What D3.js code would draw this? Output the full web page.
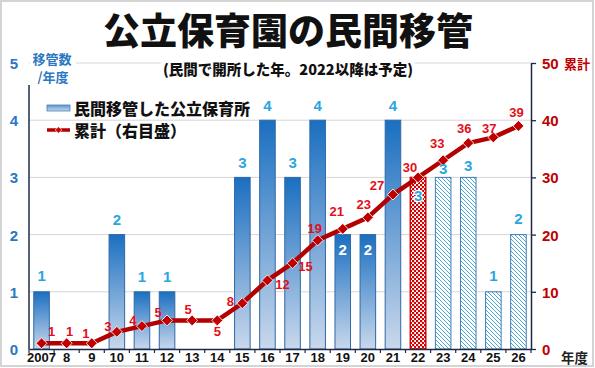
<!DOCTYPE html>
<html><head><meta charset="utf-8">
<script src="https://cdn.jsdelivr.net/npm/d3@7"></script>
<style>body{margin:0;background:#fff}svg{display:block}</style>
</head><body><svg id="c" width="595" height="368"></svg>
<script>
// ---- data ----
const years = [2007,2008,2009,2010,2011,2012,2013,2014,2015,2016,2017,2018,2019,2020,2021,2022,2023,2024,2025,2026];
const tickLabels = ["2007","8","9","10","11","12","13","14","15","16","17","18","19","20","21","22","23","24","25","26"];
const transfers = [1,0,0,2,1,1,0,0,3,4,3,4,2,2,4,3,3,3,1,2];
const cumulative = [1,1,1,3,4,5,5,5,8,12,15,19,21,23,27,30,33,36,37,39];
const barStatus = ["done","done","done","done","done","done","done","done","done","done","done","done","done","done","done","open","plan","plan","plan","plan"];
const leftTicks = [0,1,2,3,4,5];
const rightTicks = [0,10,20,30,40,50];
const title = "公立保育園の民間移管";
const subtitle = "(民間で開所した年。2022以降は予定)";
const legendBar = "民間移管した公立保育所";
const legendLine = "累計（右目盛）";

// ---- label layout (offsets only) ----
const barLabelDy = [-16,0,0,-15,-15,-15,0,0,-15,-15,-15,-15,15,15,-15,18,-9,-12,-16,-16];
const cumLabelOff = [[10,-12],[3,-12],[-6,-10],[-9,-5],[-9,-6],[-9,-8],[-4,-11],[0,11],[-12,-2],[15,4],[13,3],[-3,-12],[-6,-17],[-4,-13],[-16,-9],[-8,-10],[-6,-17],[-4,-15],[-4,-9],[-2,-13]];

const JP = "'Noto Sans CJK JP','Noto Sans',sans-serif";
const NUM = "'Liberation Sans',Arial,sans-serif";
const svg = d3.select("#c");
const defs = svg.append("defs");

const gBar = defs.append("linearGradient").attr("id","gBar").attr("x1",0).attr("y1",0).attr("x2",0).attr("y2",1);
gBar.append("stop").attr("offset","0%").attr("stop-color","#1a6fc0");
gBar.append("stop").attr("offset","100%").attr("stop-color","#c9d8ec");
const gLeg = defs.append("linearGradient").attr("id","gLeg").attr("x1",0).attr("y1",0).attr("x2",0).attr("y2",1);
gLeg.append("stop").attr("offset","0%").attr("stop-color","#5d95d0");
gLeg.append("stop").attr("offset","100%").attr("stop-color","#c9d8ec");

const pDot = defs.append("pattern").attr("id","pDot").attr("width",4).attr("height",4).attr("patternUnits","userSpaceOnUse");
pDot.append("rect").attr("width",4).attr("height",4).attr("fill","#fff");
pDot.append("rect").attr("x",0).attr("y",0).attr("width",2.2).attr("height",2.2).attr("fill","#d40000");
pDot.append("rect").attr("x",2).attr("y",2).attr("width",2.2).attr("height",2.2).attr("fill","#d40000");

const pHatch = defs.append("pattern").attr("id","pHatch").attr("width",4).attr("height",4).attr("patternUnits","userSpaceOnUse");
pHatch.append("rect").attr("width",4).attr("height",4).attr("fill","#fff");
pHatch.append("path").attr("d","M-1,-1L5,5M3,-1L5,1M-1,3L1,5").attr("stroke","#3b9cc9").attr("stroke-width",0.9);

// frame
svg.append("rect").attr("x",1).attr("y",1).attr("width",592).attr("height",365).attr("fill","#fff").attr("stroke","#d4d4d4").attr("stroke-width",2);

// scales
const x = d3.scaleBand().domain(years).range([29,531]).paddingInner(0.38).paddingOuter(0.19);
const yL = d3.scaleLinear().domain([0,5]).range([349,63]);
const yR = d3.scaleLinear().domain([0,50]).range([349,63]);
const cx = d => x(d) + x.bandwidth()/2;

// gridlines
svg.append("g").selectAll("line").data(leftTicks.filter(d=>d>0)).join("line")
  .attr("x1",29).attr("x2",531).attr("y1",d=>yL(d)).attr("y2",d=>yL(d))
  .attr("stroke","#d6d6d6").attr("stroke-width",1);

// bars
const bars = years.map((y,i)=>({year:y,v:transfers[i],s:barStatus[i],i}));
svg.append("g").selectAll("rect").data(bars.filter(d=>d.v>0)).join("rect")
  .attr("x",d=>x(d.year)).attr("width",x.bandwidth())
  .attr("y",d=>yL(d.v)).attr("height",d=>yL(0)-yL(d.v))
  .attr("fill",d=>d.s==="done"?"url(#gBar)":d.s==="open"?"url(#pDot)":"url(#pHatch)")
  .attr("stroke",d=>d.s==="open"?"#d40000":d.s==="done"?"#3068a6":"#3d7db4")
  .attr("stroke-width",d=>d.s==="open"?1.4:1);

// axes
const axL = svg.append("g").attr("transform","translate(29,0)")
  .call(d3.axisLeft(yL).tickValues(leftTicks).tickSize(0).tickFormat(d3.format("d")));
axL.select(".domain").remove();
axL.selectAll("text").attr("x",-15).attr("text-anchor","middle").attr("dy","0.36em")
  .attr("font-family",NUM).attr("font-weight","bold").attr("font-size",15).attr("fill","#2b78c2");
svg.append("line").attr("x1",29).attr("x2",29).attr("y1",85).attr("y2",349).attr("stroke","#1c2a48").attr("stroke-width",1.5);

const axR = svg.append("g").attr("transform","translate(531,0)")
  .call(d3.axisRight(yR).tickValues(rightTicks).tickSize(5).tickSizeOuter(0).tickPadding(6).tickFormat(d3.format("d")));
axR.select(".domain").attr("stroke","#1c2a48").attr("stroke-width",1.5);
axR.selectAll(".tick line").attr("stroke","#1c2a48").attr("stroke-width",1.3);
axR.selectAll("text").attr("dy","0.36em")
  .attr("font-family",NUM).attr("font-weight","bold").attr("font-size",15).attr("fill","#c00000");

const axB = svg.append("g").attr("transform","translate(0,349)")
  .call(d3.axisBottom(x).tickSize(0).tickPadding(4).tickFormat((d,i)=>tickLabels[i]));
axB.select(".domain").attr("stroke","#1c2a48").attr("stroke-width",1.5);
axB.selectAll("text").attr("font-family",NUM).attr("font-weight","bold").attr("font-size",13).attr("fill","#111");
// boundary ticks
svg.append("g").selectAll("line").data(d3.range(years.length+1)).join("line")
  .attr("x1",i=>x.range()[0]+i*x.step()).attr("x2",i=>x.range()[0]+i*x.step())
  .attr("y1",349).attr("y2",353).attr("stroke","#1c2a48").attr("stroke-width",1.2);

// cumulative line
const pts = years.map((y,i)=>({year:y,c:cumulative[i],i}));
svg.append("path").datum(pts)
  .attr("d",d3.line().x(d=>cx(d.year)).y(d=>yR(d.c)))
  .attr("fill","none").attr("stroke","#b30000").attr("stroke-width",4.5).attr("stroke-linejoin","round");
svg.append("g").selectAll("path").data(pts).join("path")
  .attr("d",d3.symbol(d3.symbolSquare,60)())
  .attr("transform",d=>`translate(${cx(d.year)},${yR(d.c)}) rotate(45)`)
  .attr("fill","#c00000").attr("stroke","#fff").attr("stroke-width",0.8);

// bar labels
svg.append("g").selectAll("text").data(bars.filter(d=>d.v>0)).join("text")
  .attr("x",d=>cx(d.year)).attr("y",d=>yL(d.v)+barLabelDy[d.i])
  .attr("text-anchor","middle").attr("dominant-baseline","central")
  .attr("font-family",NUM).attr("font-weight","bold").attr("font-size",15)
  .attr("fill",d=>barLabelDy[d.i]>0&&d.s==="done"?"#ffffff":"#2aa5e0")
  .attr("stroke",d=>d.s==="open"?"#fff":"none").attr("stroke-width",2.5).attr("paint-order","stroke")
  .text(d=>d.v);

svg.append("g").selectAll("text").data(pts).join("text")
  .attr("x",d=>cx(d.year)+cumLabelOff[d.i][0]).attr("y",d=>yR(d.c)+cumLabelOff[d.i][1])
  .attr("text-anchor","middle").attr("dominant-baseline","central")
  .attr("font-family",NUM).attr("font-weight","bold").attr("font-size",13).attr("fill","#e3101c")
  .text(d=>d.c);

// title
svg.append("text").attr("x",288).attr("y",45).attr("text-anchor","middle")
  .attr("font-family",JP).attr("font-weight",900).attr("font-size",37).attr("fill","#111").text(title);
// subtitle with white background
const sg = svg.append("g");
const sbg = sg.append("rect").attr("fill","#fff");
const sub = sg.append("text").attr("x",288).attr("y",68).attr("text-anchor","middle").attr("dominant-baseline","central")
  .attr("font-family",JP).attr("font-weight",900).attr("font-size",14.5).attr("fill","#111").text(subtitle);
const sb = sub.node().getBBox();
sbg.attr("x",sb.x-2).attr("y",sb.y).attr("width",sb.width+4).attr("height",sb.height);

// left axis title
const lt = svg.append("g");
lt.append("rect").attr("x",30).attr("y",50).attr("width",46).attr("height",34).attr("fill","#fff");
lt.append("text").attr("x",52).attr("y",58).attr("text-anchor","middle").attr("dominant-baseline","central")
  .attr("font-family",JP).attr("font-weight","bold").attr("font-size",13).attr("fill","#2b78c2").text("移管数");
lt.append("text").attr("x",53).attr("y",76).attr("text-anchor","middle").attr("dominant-baseline","central")
  .attr("font-family",JP).attr("font-weight","bold").attr("font-size",13).attr("fill","#2b78c2").text("/年度");
// right axis title
svg.append("text").attr("x",564).attr("y",63).attr("dominant-baseline","central")
  .attr("font-family",JP).attr("font-weight","bold").attr("font-size",13).attr("fill","#c00000").text("累計");
// x axis title
svg.append("text").attr("x",561).attr("y",357).attr("dominant-baseline","central")
  .attr("font-family",JP).attr("font-weight","bold").attr("font-size",13.5).attr("fill","#222").text("年度");

// legend
const lg = svg.append("g");
lg.append("rect").attr("x",47).attr("y",105).attr("width",23).attr("height",6)
  .attr("fill","url(#gLeg)").attr("stroke","#4a7fb8").attr("stroke-width",0.8);
lg.append("text").attr("x",74).attr("y",108).attr("dominant-baseline","central")
  .attr("font-family",JP).attr("font-weight",900).attr("font-size",16).attr("fill","#111").text(legendBar);
lg.append("line").attr("x1",47).attr("x2",70).attr("y1",130).attr("y2",130).attr("stroke","#b30000").attr("stroke-width",3.5);
lg.append("path").attr("d",d3.symbol(d3.symbolSquare,22)()).attr("transform","translate(58.5,130) rotate(45)")
  .attr("fill","#d00000").attr("stroke","#fff").attr("stroke-width",0.6);
lg.append("text").attr("x",74).attr("y",130).attr("dominant-baseline","central")
  .attr("font-family",JP).attr("font-weight",900).attr("font-size",16).attr("fill","#111").text(legendLine);
</script></body></html>
